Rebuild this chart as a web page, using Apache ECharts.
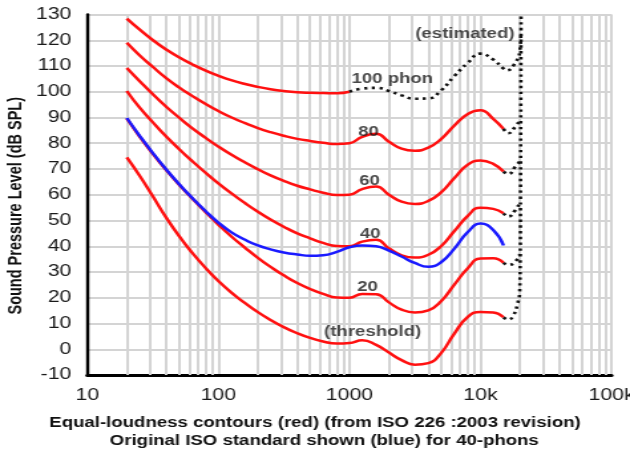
<!DOCTYPE html>
<html>
<head>
<meta charset="utf-8">
<title>Equal-loudness contours</title>
<script src="https://cdn.jsdelivr.net/npm/echarts@6/dist/echarts.min.js"></script>
<style>
  html, body { margin: 0; padding: 0; background: #fff; overflow: hidden; }
  /* the source picture is stretched sideways, so draw narrow and widen it */
  #main { width: 474px; height: 450px; transform: scaleX(1.3291); transform-origin: 0 0; }
</style>
</head>
<body>
<div id="main"></div>
<script>
// frequencies (Hz) of the contour points
var freqs = [20, 25, 31.5, 40, 50, 63, 80, 100, 125, 160, 200, 250, 315, 400, 500, 630, 800,
  1000, 1250, 1600, 2000, 2500, 3150, 4000, 5000, 6300, 8000, 10000, 12500, 15000];

// red contours, dB SPL
var threshold = [74.5, 67.5, 59.5, 51.1, 44.0, 37.5, 31.5, 26.5, 22.1, 17.9, 14.4, 11.4, 8.6, 6.2, 4.4, 3.0, 2.2,
  2.4, 3.5, 1.7, -1.3, -4.2, -6.0, -5.4, -1.5, 6.0, 12.6, 14.5, 14.3, 12.4];
var phon20 = [89.6, 82.7, 76.0, 69.6, 64.0, 58.6, 53.2, 48.4, 43.9, 39.4, 35.5, 32.0, 28.7, 25.7, 23.4, 21.5, 20.1,
  20.0, 21.5, 21.4, 18.2, 15.4, 14.3, 15.1, 18.6, 25.0, 31.5, 35.2, 35.3, 33.6];
var phon40 = [100.3, 93.9, 88.2, 82.6, 77.8, 73.1, 68.5, 64.4, 60.6, 56.7, 53.4, 50.4, 47.6, 45.0, 43.1, 41.3, 40.1,
  40.0, 41.8, 42.5, 39.2, 36.5, 35.6, 36.7, 40.0, 45.8, 51.8, 55.0, 54.5, 52.8];
var phon60 = [109.2, 104.2, 99.1, 94.2, 90.0, 85.9, 82.1, 78.7, 75.6, 72.5, 69.9, 67.5, 65.4, 63.5, 62.1, 60.8, 59.9,
  60.0, 62.2, 63.2, 60.0, 57.3, 56.4, 57.6, 60.9, 66.4, 71.7, 73.3, 72.0, 69.0];
var phon80 = [119.0, 114.2, 109.7, 105.3, 101.7, 98.4, 95.2, 92.5, 90.1, 87.8, 85.9, 84.3, 82.9, 81.7, 80.9, 80.2, 79.7,
  80.0, 82.5, 83.7, 80.6, 77.9, 77.1, 78.3, 81.6, 86.8, 91.4, 92.8, 89.5, 85.6];
var phon100 = [128.4, 124.2, 120.1, 116.4, 113.4, 110.7, 108.2, 106.2, 104.5, 103.0, 101.9, 101.0, 100.3, 99.8, 99.6, 99.5, 99.4,
  100.0];

// blue: original ISO 40-phon contour
var oldPhon40 = [89.8, 83.0, 76.3, 69.8, 64.2, 58.8, 53.6, 49.2, 45.5, 42.5, 40.3, 38.8, 37.6, 36.8, 36.3, 36.5, 37.8,
  39.6, 40.3, 40.0, 38.3, 36.0, 33.5, 32.0, 33.8, 39.0, 45.5, 48.8, 46.3, 40.3];

// black dotted "estimated" parts
var est100Freqs = [1000, 1250, 1600, 2000, 2500, 3150, 4000, 5000, 6300, 8000, 10000, 12500, 15000, 15900, 18000, 20000, 20300];
var est100 = [100.0, 101.2, 101.5, 100.3, 98.6, 97.3, 97.4, 100.5, 106.0, 111.2, 114.8, 112.5, 109.0, 108.3, 110.5, 116.0, 122.0];
var tailFreqs = [15000, 16300, 18400, 20000];
var tail80 = [85.6, 83.9, 86.4, 89.0];
var tail60 = [69.0, 68.0, 70.9, 73.0];
var tail40 = [52.8, 51.5, 54.0, 57.0];
var tail20 = [33.6, 32.7, 34.0, 37.0];
var edgeFreqs = [15000, 16300, 17900, 19200, 19900, 20100, 20200, 20300, 20400];
var edgeDb = [12.4, 11.5, 13.3, 17.8, 22.0, 35.0, 60.0, 95.0, 130.0];

// minor vertical grid lines
var gridFreqs = [20, 30, 40, 50, 60, 70, 80, 90, 200, 300, 400, 500, 600, 700, 800, 900,
  2000, 3000, 4000, 5000, 6000, 7000, 8000, 9000, 20000, 30000, 40000, 50000, 60000, 70000, 80000, 90000];
var xTickNames = ['10', '100', '1000', '10k', '100k'];

// curve annotations
var noteText = ['(estimated)', '100 phon', '80', '60', '40', '20', '(threshold)'];
var noteFreq = [7600, 2126, 1402, 1421, 1439, 1372, 1503];
var noteDb = [122.2, 105.0, 84.4, 65.2, 44.6, 24.2, 6.5];

function pairs(xs, ys) {
  return ys.map(function (v, i) { return [xs[i], v]; });
}

function redLine(name, ys) {
  return {
    name: name, type: 'line', data: pairs(freqs, ys), smooth: 0.5, symbol: 'none', z: 3,
    lineStyle: { color: '#ff1010', width: 2.5 }
  };
}

function dotLine(name, xs, ys) {
  return {
    name: name, type: 'line', data: pairs(xs, ys), smooth: 0.5, symbol: 'none', z: 4,
    lineStyle: { color: '#111', width: 2.6, type: [2.4, 3.4] }
  };
}

var chart = echarts.init(document.getElementById('main'));

var option = {
  animation: false,
  backgroundColor: '#fff',
  textStyle: { fontFamily: 'Liberation Sans, Arial, sans-serif' },
  title: [
    {
      text: 'Equal-loudness contours (red) (from ISO 226 :2003 revision)',
      left: 232, top: 411, textAlign: 'center',
      textStyle: { fontSize: 14, fontWeight: 'bold', color: '#111' }
    },
    {
      text: 'Original ISO standard shown (blue) for 40-phons',
      left: 239, top: 429, textAlign: 'center',
      textStyle: { fontSize: 14, fontWeight: 'bold', color: '#111' }
    }
  ],
  grid: { left: 65.7, right: 13.9, top: 14.5, bottom: 75, outerBoundsMode: 'none' },
  xAxis: {
    type: 'log',
    logBase: 10,
    min: 10,
    max: 100000,
    axisLine: { onZero: false, lineStyle: { color: '#000', width: 3 } },
    axisTick: { show: false },
    axisLabel: {
      margin: 13, fontSize: 16, color: '#1a1a1a',
      formatter: function (v) { return xTickNames[Math.round(Math.log10(v)) - 1]; }
    },
    splitLine: { show: true, showMinLine: false, lineStyle: { color: '#d4d4d4', width: 2 } }
  },
  yAxis: {
    type: 'value',
    min: -10,
    max: 130,
    interval: 10,
    name: 'Sound Pressure Level (dB SPL)',
    nameLocation: 'middle',
    nameGap: 46,
    nameMoveOverlap: false,
    nameTextStyle: { fontSize: 14.5, fontWeight: 'bold', color: '#111', padding: [0, 22, 0, 0] },
    axisLine: { show: true, onZero: false, lineStyle: { color: '#000', width: 2.4 } },
    axisTick: { show: false },
    axisLabel: { margin: 12, fontSize: 16, color: '#1a1a1a' },
    splitLine: { show: true, showMinLine: false, lineStyle: { color: '#d4d4d4', width: 2 } }
  },
  series: [
    {
      name: 'grid', type: 'line', data: [], z: 1, silent: true,
      markLine: {
        z: 1, silent: true, symbol: ['none', 'none'], label: { show: false },
        lineStyle: { color: '#d4d4d4', width: 2, type: 'solid' },
        emphasis: { disabled: true },
        data: gridFreqs.map(function (f) { return { xAxis: f }; })
      }
    },
    redLine('threshold', threshold),
    redLine('20', phon20),
    redLine('40', phon40),
    redLine('60', phon60),
    redLine('80', phon80),
    {
      name: '100', type: 'line', data: pairs(freqs, phon100), smooth: 0.5, symbol: 'none', z: 3,
      lineStyle: { color: '#ff1010', width: 2.5 }
    },
    dotLine('100 est', est100Freqs, est100),
    dotLine('80 est', tailFreqs, tail80),
    dotLine('60 est', tailFreqs, tail60),
    dotLine('40 est', tailFreqs, tail40),
    dotLine('20 est', tailFreqs, tail20),
    dotLine('edge', edgeFreqs, edgeDb),
    {
      name: 'ISO 40 old', type: 'line', data: pairs(freqs, oldPhon40), smooth: 0.5, symbol: 'none', z: 5,
      lineStyle: { color: '#1a1aff', width: 2.5 }
    },
    {
      name: 'notes', type: 'scatter', z: 6, symbolSize: 1, silent: true,
      itemStyle: { color: 'rgba(0,0,0,0)' },
      data: pairs(noteFreq, noteDb),
      label: {
        show: true, position: 'inside', fontSize: 14, fontWeight: 'bold', color: '#1a1a1a',
        formatter: function (p) { return noteText[p.dataIndex]; }
      }
    }
  ]
};

chart.setOption(option);
</script>
</body>
</html>
